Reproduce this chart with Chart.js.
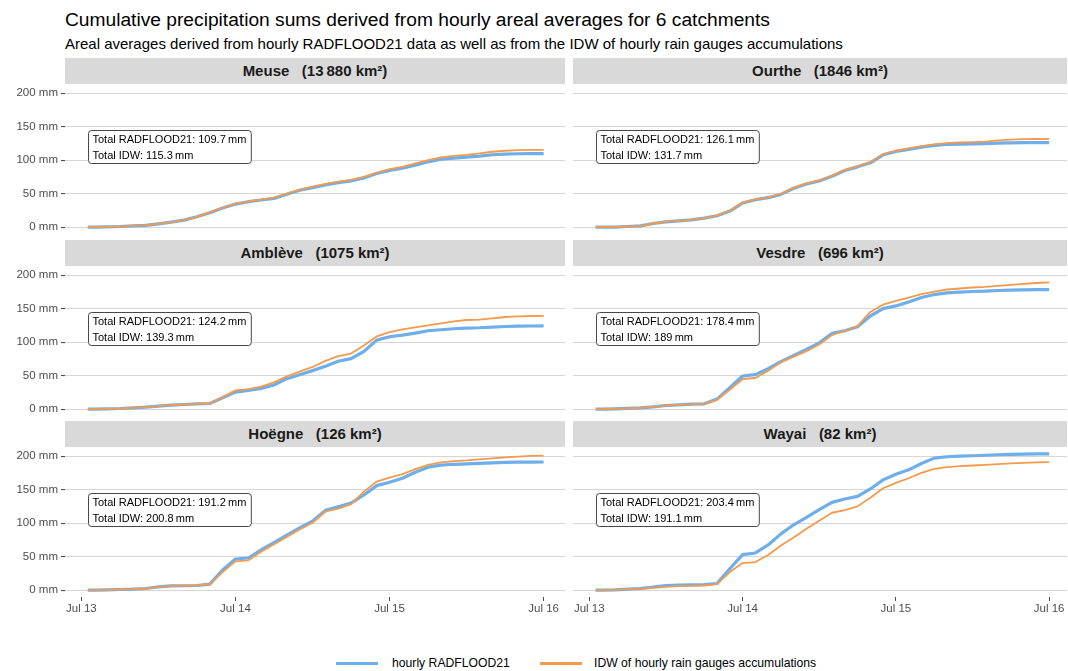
<!DOCTYPE html>
<html>
<head>
<meta charset="utf-8">
<script src="https://cdn.jsdelivr.net/npm/chart.js@4/dist/chart.umd.min.js"></script>
<style>
  body { margin: 0; background: #fff; font-family: "Liberation Sans", Arial, sans-serif; }
  #wrap { position: relative; width: 1068px; height: 671px; overflow: hidden; }
  .title { position: absolute; left: 65px; top: 8px; font-size: 19.2px; line-height: 23px; color: #000; white-space: nowrap; }
  .subtitle { position: absolute; left: 65px; top: 35px; font-size: 15px; line-height: 18px; color: #000; white-space: nowrap; }
  .strip { position: absolute; height: 26px; line-height: 26px; background: #d9d9d9; color: #1a1a1a;
           font-weight: bold; font-size: 15px; text-align: center; white-space: pre; }
  .panel { position: absolute; }
  .key { position: absolute; height: 2.5px; }
  .ltext { position: absolute; font-size: 12.2px; color: #000; white-space: nowrap; line-height: 14px; }
</style>
</head>
<body>
<div id="wrap">
  <div class="title">Cumulative precipitation sums derived from hourly areal averages for 6 catchments</div>
  <div class="subtitle">Areal averages derived from hourly RADFLOOD21 data as well as from the IDW of hourly rain gauges accumulations</div>
</div>
<script>
// hours after Jul 13 00:00
const HOURS = [1, 2, 4, 6, 8, 10, 12, 14, 16, 18, 20, 22, 24, 26, 28, 30, 32, 34, 36, 38,
  40, 42, 44, 46, 48, 50, 52, 54, 56, 58, 60, 62, 64, 66, 68, 70, 72];
const TICK_HOURS = [0, 24, 48, 72];
const TICK_LABELS = ["Jul 13", "Jul 14", "Jul 15", "Jul 16"];
const Y_TICKS = [0, 50, 100, 150, 200];

const CATCHMENTS = ["Meuse", "Ourthe", "Amblève", "Vesdre", "Hoëgne", "Wayai"];
const AREAS = ["13\u2009880", "1846", "1075", "696", "126", "82"];

// cumulative sums (mm)
const MEUSE_RAD = [0, 0, 0.5, 1, 2, 2.8, 5, 7.5, 10.5, 15.5, 21.5, 28.5, 34.5, 38, 40.5, 43, 49, 55, 59, 63,
  66.5, 69, 73.5, 80, 84.5, 88, 92.5, 97.5, 101.5, 103, 104.5, 106, 108, 109, 109.5, 109.7, 109.7];
const MEUSE_IDW = [0, 0, 0.5, 1, 2, 3, 5, 7.5, 10.5, 15.5, 22, 29, 35, 38.5, 41, 44, 50, 56, 60.5, 64.5,
  68, 70.5, 75, 81.5, 86.5, 90, 95, 100, 104, 106.5, 108, 110, 112.5, 114, 114.8, 115.2, 115.3];
const OURTHE_RAD = [0, 0, 0.2, 1, 2, 5.5, 8, 9.5, 11, 13.5, 17, 24, 36, 41, 44, 49, 58, 64.5, 69, 76,
  84.5, 90, 96, 108, 113, 116, 119.5, 122, 123.5, 124, 124.3, 124.7, 125.3, 125.7, 126, 126.1, 126.1];
const OURTHE_IDW = [0, 0, 0.2, 1, 2, 5.5, 8, 9.5, 11, 13.5, 17.5, 24.5, 37, 41.5, 44.5, 49.5, 59, 65.5, 70, 77,
  85.5, 91, 97, 109, 114, 117.5, 121, 123.5, 125.5, 126.5, 127, 127.5, 129.5, 130.5, 131.2, 131.5, 131.7];
const AMBLEVE_RAD = [0, 0, 0.5, 1, 2, 3, 4.5, 6, 7, 7.8, 8.5, 17, 25.5, 28, 31, 36, 45.5, 51.5, 57.5, 64,
  71.5, 75.5, 86, 103, 108, 110.5, 113.5, 117, 118.5, 120, 121, 121.5, 122.5, 123.3, 123.8, 124.1, 124.2];
const AMBLEVE_IDW = [0, 0, 0.5, 1, 2, 3, 4.5, 6, 7, 7.8, 8.5, 18, 28, 30, 33.5, 40, 49, 56, 63, 72,
  79, 83, 95, 108.5, 115, 119, 122, 125, 128, 131, 133, 133.5, 135.5, 137.5, 138.5, 139, 139.3];
const VESDRE_RAD = [0, 0, 0.5, 1.2, 2, 3.5, 5.5, 6.5, 7.5, 8, 15, 32, 49.5, 51.5, 60.5, 71, 80, 89, 99, 113,
  117, 123, 139, 150, 154, 160, 166.5, 171, 173.5, 174.5, 175.5, 176, 177, 177.6, 178, 178.3, 178.4];
const VESDRE_IDW = [0, 0, 0.5, 1.2, 2, 3.5, 5.5, 6.5, 7.5, 8, 14, 29, 45, 46.5, 57.5, 70, 78.5, 86.5, 96.5, 110.5,
  117, 124, 145, 156, 161.5, 166.5, 171.5, 175.5, 178.5, 180, 181.5, 182.5, 184, 185.5, 187, 188.2, 189];
const HOEGNE_RAD = [0, 0, 0.5, 1, 1.5, 2.5, 5, 6.5, 6.6, 7, 9, 30, 46.5, 48, 60, 71, 82, 93, 103, 119,
  124.5, 130, 142, 156, 161, 167, 176, 183.5, 186.5, 187.8, 188.3, 189, 189.8, 190.5, 190.9, 191.1, 191.2];
const HOEGNE_IDW = [0, 0, 0.5, 1, 1.5, 2.5, 5, 6.5, 6.6, 7, 9, 27, 43, 44.5, 57.5, 68.5, 79.5, 90.5, 100.5, 117,
  121.5, 128.5, 147, 162, 168, 173, 180.5, 187, 190.5, 192.5, 193.5, 195, 196.5, 198, 199.3, 200.2, 200.8];
const WAYAI_RAD = [0, 0, 0.5, 1.5, 2.5, 4.5, 7, 7.5, 8, 8.5, 10, 32, 53, 55.5, 67.5, 84, 97.5, 108.5, 120, 131,
  136, 140, 151, 164.5, 173, 179.5, 189, 197, 199, 200, 200.5, 201.3, 202, 202.6, 203, 203.3, 203.4];
const WAYAI_IDW = [0, 0, 0.5, 1.5, 2, 3.5, 5, 6, 6.5, 7, 9, 27, 40.5, 42, 52.5, 66.5, 78.5, 91.5, 103.5, 115.5,
  119.5, 125, 138, 152, 160, 167, 175, 181, 183.5, 185, 186, 187, 188, 189, 190, 190.6, 191.1];

const RAD = [MEUSE_RAD, OURTHE_RAD, AMBLEVE_RAD, VESDRE_RAD, HOEGNE_RAD, WAYAI_RAD];
const IDW = [MEUSE_IDW, OURTHE_IDW, AMBLEVE_IDW, VESDRE_IDW, HOEGNE_IDW, WAYAI_IDW];

const SERIES_NAMES = ["hourly RADFLOOD21", "IDW of hourly rain gauges accumulations"];
const BLUE = "#6eaeea";
const ORANGE = "#f59a4c";

// facet geometry
const PANEL_LEFT = [65, 573];
const PANEL_WIDTH = [500, 494];
const PANEL_TOP = [84, 266, 447];
const PANEL_H = 150;
const STRIP_H = 26;
const X_MIN = -2.55;
const Y_MIN = -10.17, Y_MAX = 213.57;
const LABEL_HOUR = 1, LABEL_MM = 120;

Chart.defaults.font.family = '"Liberation Sans", Arial, sans-serif';

const wrap = document.getElementById("wrap");

// white label with both totals, anchored at the first hour
const totalsBox = {
  id: "totalsBox",
  afterDatasetsDraw(chart, args, opts) {
    const { ctx } = chart;
    const x = chart.scales.x, y = chart.scales.y;
    ctx.save();
    ctx.font = '11px "Liberation Sans", Arial, sans-serif';
    const w = Math.max(...opts.lines.map((t) => ctx.measureText(t).width)) + 9;
    const h = 33;
    const x0 = Math.round(x.getPixelForValue(LABEL_HOUR)) + 0.5;
    const y0 = Math.round(y.getPixelForValue(LABEL_MM) - h / 2) + 0.5;
    ctx.beginPath();
    ctx.roundRect(x0, y0, w, h, 3);
    ctx.fillStyle = "#fff";
    ctx.fill();
    ctx.strokeStyle = "#333";
    ctx.lineWidth = 0.9;
    ctx.stroke();
    ctx.fillStyle = "#000";
    ctx.textBaseline = "middle";
    ctx.fillText(opts.lines[0], x0 + 4, y0 + 9);
    ctx.fillText(opts.lines[1], x0 + 4, y0 + 25);
    ctx.restore();
  },
};

// keep tick labels from shrinking the plot area
function noOverhang(s) {
  s.paddingTop = 0; s.paddingBottom = 0;
  s.paddingLeft = 0; s.paddingRight = 0;
}

function addPanel(i) {
  const col = i % 2, row = Math.floor(i / 2);
  const isLeft = col === 0, isBottom = row === 2;
  const axisW = isLeft ? 65 : 0;
  const axisH = isBottom ? 24 : 0;

  const strip = document.createElement("div");
  strip.className = "strip";
  strip.style.left = PANEL_LEFT[col] + "px";
  strip.style.width = PANEL_WIDTH[col] + "px";
  strip.style.top = (PANEL_TOP[row] - STRIP_H) + "px";
  strip.textContent = `${CATCHMENTS[i]}   (${AREAS[i]} km²)`;
  wrap.appendChild(strip);

  const cv = document.createElement("canvas");
  cv.className = "panel";
  const cw = PANEL_WIDTH[col] + axisW, ch = PANEL_H + axisH;
  cv.width = cw; cv.height = ch;
  cv.style.width = cw + "px"; cv.style.height = ch + "px";
  cv.style.left = (PANEL_LEFT[col] - axisW) + "px";
  cv.style.top = PANEL_TOP[row] + "px";
  wrap.appendChild(cv);

  const rad = RAD[i], idw = IDW[i];
  const pts = (arr) => HOURS.map((h, k) => ({ x: h, y: arr[k] }));
  const xMax = X_MIN + PANEL_WIDTH[col] / (isLeft ? 6.42 : 6.387);

  new Chart(cv, {
    type: "line",
    data: {
      datasets: [
        { label: SERIES_NAMES[1], data: pts(idw), borderColor: ORANGE, borderWidth: 1.8, order: 0 },
        { label: SERIES_NAMES[0], data: pts(rad), borderColor: BLUE, borderWidth: 3.2, order: 1 },
      ],
    },
    options: {
      responsive: false,
      animation: false,
      layout: { padding: 0 },
      elements: { point: { radius: 0 }, line: { tension: 0, borderJoinStyle: "round", fill: false } },
      plugins: {
        legend: { display: false },
        tooltip: { enabled: false },
        totalsBox: {
          lines: [
            `Total RADFLOOD21: ${rad[rad.length - 1]}\u2009mm`,
            `Total IDW: ${idw[idw.length - 1]}\u2009mm`,
          ],
        },
      },
      scales: {
        x: {
          type: "linear",
          min: X_MIN,
          max: xMax,
          display: isBottom,
          afterBuildTicks: (s) => { s.ticks = TICK_HOURS.map((v) => ({ value: v })); },
          afterFit: (s) => { s.height = axisH; noOverhang(s); },
          ticks: {
            autoSkip: false, maxRotation: 0, padding: 1, color: "#4d4d4d", font: { size: 11.5 },
            callback: (v) => TICK_LABELS[TICK_HOURS.indexOf(v)],
          },
          grid: { color: "rgba(0,0,0,0)", tickColor: "#4d4d4d", tickLength: 4, drawTicks: true },
          border: { display: false },
        },
        y: {
          min: Y_MIN,
          max: Y_MAX,
          afterBuildTicks: (s) => { s.ticks = Y_TICKS.map((v) => ({ value: v })); },
          afterFit: (s) => { s.width = axisW; noOverhang(s); },
          ticks: { display: isLeft, padding: 3, color: "#4d4d4d", font: { size: 11.5 }, callback: (v) => v + " mm" },
          grid: { color: "#d6d6d6", lineWidth: 1.1, drawTicks: isLeft, tickColor: "#4d4d4d", tickLength: 4 },
          border: { display: false },
        },
      },
    },
    plugins: [totalsBox],
  });
}

CATCHMENTS.forEach((_, i) => addPanel(i));

// legend row under the facets
const LEGEND_KEYS = [[336, BLUE, 392], [540, ORANGE, 594]];
LEGEND_KEYS.forEach(([kx, color, tx], k) => {
  const key = document.createElement("div");
  key.className = "key";
  key.style.cssText = `left:${kx}px;top:662px;width:42px;background:${color}`;
  wrap.appendChild(key);
  const t = document.createElement("div");
  t.className = "ltext";
  t.style.cssText = `left:${tx}px;top:656px`;
  t.textContent = SERIES_NAMES[k];
  wrap.appendChild(t);
});
</script>
</body>
</html>
